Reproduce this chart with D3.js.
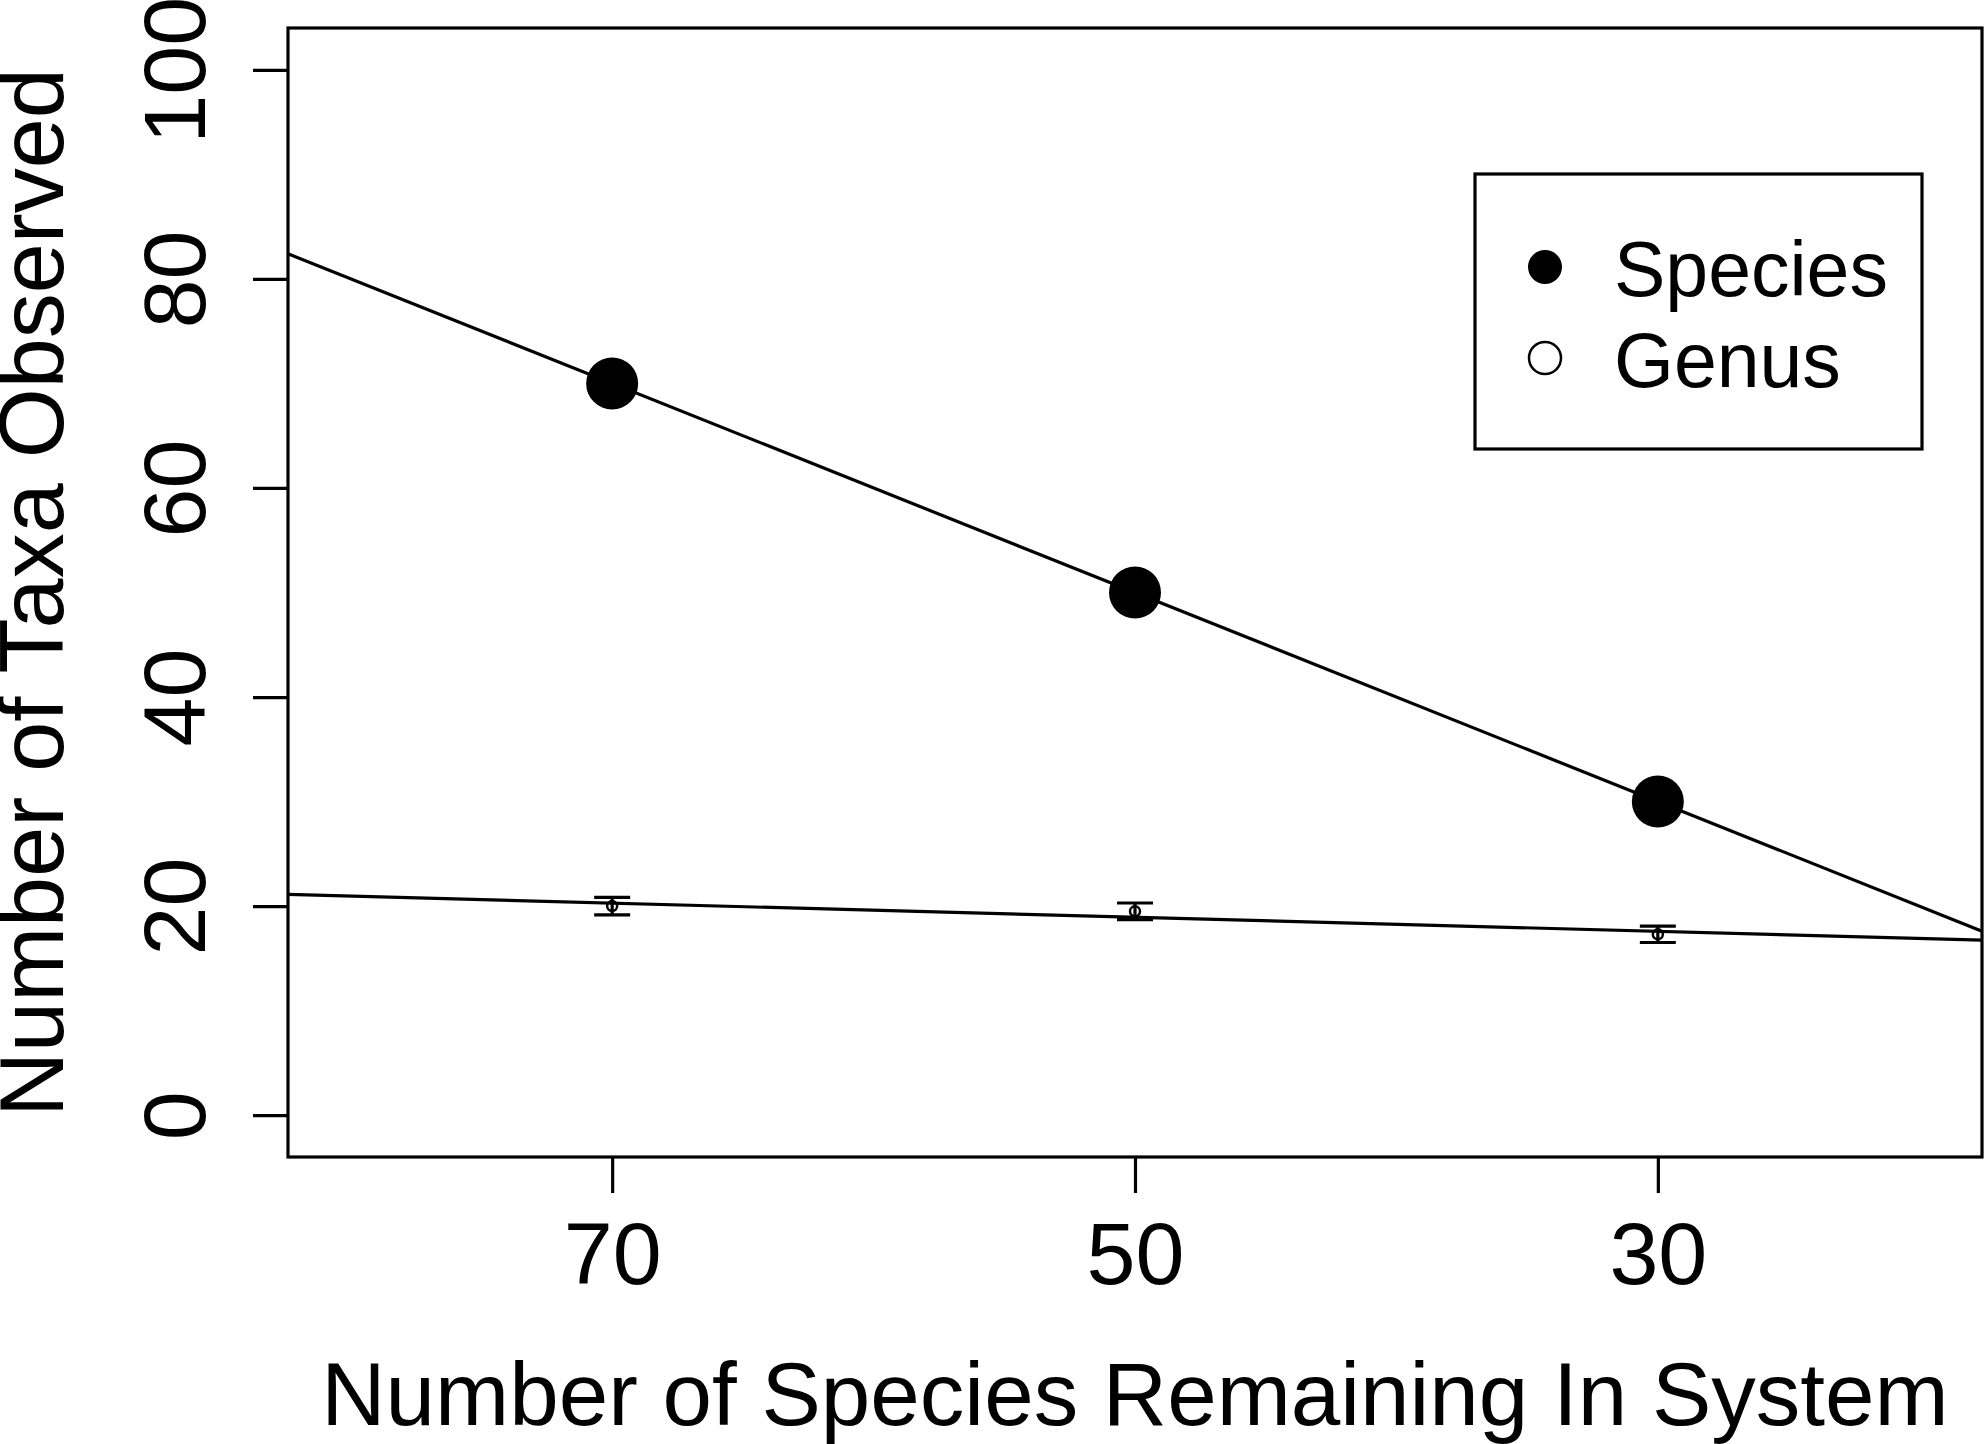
<!DOCTYPE html>
<html>
<head>
<meta charset="utf-8">
<script src="https://cdn.jsdelivr.net/npm/d3@7"></script>
<style>
  body { margin: 0; background: #fff; }
  text { font-family: "Liberation Sans", Arial, sans-serif; fill: #000; }
</style>
</head>
<body>
<svg id="chart" width="1985" height="1444"></svg>
<script>
// data
const remaining = [70, 50, 30];           // species remaining in system
const speciesObserved = [70, 50, 30];
const genusObserved = [20.0, 19.5, 17.3];
const genusSE = [0.83, 0.8, 0.78];
const xTicks = [70, 50, 30];
const yTicks = [0, 20, 40, 60, 80, 100];
const legendLabels = ["Species", "Genus"];

// R-style limits with 4% padding
const xLim = [80, 20];
const yLim = [0, 100];
function pad(lim) {
  let d = (lim[1] - lim[0]) * 0.04;
  return [lim[0] - d, lim[1] + d];
}

const plotLeft = 288, plotRight = 1982, plotTop = 28, plotBottom = 1157;
const lw = 3.2;

let svg = d3.select("#chart");
let x = d3.scaleLinear().domain(pad(xLim)).range([plotLeft, plotRight]);
let y = d3.scaleLinear().domain(pad(yLim)).range([plotBottom, plotTop]);

// least squares fit, like abline(lm(y ~ x))
function fit(xs, ys) {
  let mx = d3.mean(xs), my = d3.mean(ys);
  let sxy = d3.sum(xs, (v, i) => (v - mx) * (ys[i] - my));
  let sxx = d3.sum(xs, v => (v - mx) * (v - mx));
  let b = sxy / sxx;
  return { a: my - b * mx, b: b };
}

svg.append("clipPath").attr("id", "plotclip")
  .append("rect")
  .attr("x", plotLeft).attr("y", plotTop)
  .attr("width", plotRight - plotLeft).attr("height", plotBottom - plotTop);

// axes
let yAxis = svg.append("g")
  .attr("transform", "translate(" + plotLeft + ",0)")
  .call(d3.axisLeft(y).tickValues(yTicks).tickSize(35).tickFormat(d3.format("d")));
yAxis.select(".domain").remove();
yAxis.selectAll(".tick line").attr("stroke", "#000").attr("stroke-width", lw);
yAxis.selectAll(".tick text")
  .attr("transform", "rotate(-90)")
  .attr("x", 0).attr("y", -83).attr("dy", 0)
  .attr("text-anchor", "middle")
  .style("font-size", "88px");

let xAxis = svg.append("g")
  .attr("transform", "translate(0," + plotBottom + ")")
  .call(d3.axisBottom(x).tickValues(xTicks).tickSize(36).tickFormat(d3.format("d")));
xAxis.select(".domain").remove();
xAxis.selectAll(".tick line").attr("stroke", "#000").attr("stroke-width", lw);
xAxis.selectAll(".tick text")
  .attr("y", 127).attr("dy", 0)
  .style("font-size", "88px");

// fitted lines
let plot = svg.append("g").attr("clip-path", "url(#plotclip)");
let fits = [fit(remaining, speciesObserved), fit(remaining, genusObserved)];
let xs = x.domain();
plot.selectAll("line.fit")
  .data(fits)
  .enter().append("line")
  .attr("class", "fit")
  .attr("x1", x(xs[0])).attr("y1", d => y(d.a + d.b * xs[0]))
  .attr("x2", x(xs[1])).attr("y2", d => y(d.a + d.b * xs[1]))
  .attr("stroke", "#000").attr("stroke-width", lw);

// genus error bars
let genus = remaining.map((r, i) => ({ r: r, v: genusObserved[i], se: genusSE[i] }));
let bars = plot.selectAll("g.err").data(genus).enter().append("g").attr("class", "err");
bars.append("line")
  .attr("x1", d => x(d.r)).attr("x2", d => x(d.r))
  .attr("y1", d => y(d.v + d.se)).attr("y2", d => y(d.v - d.se))
  .attr("stroke", "#000").attr("stroke-width", lw);
bars.append("line")
  .attr("x1", d => x(d.r) - 18).attr("x2", d => x(d.r) + 18)
  .attr("y1", d => y(d.v + d.se)).attr("y2", d => y(d.v + d.se))
  .attr("stroke", "#000").attr("stroke-width", lw);
bars.append("line")
  .attr("x1", d => x(d.r) - 18).attr("x2", d => x(d.r) + 18)
  .attr("y1", d => y(d.v - d.se)).attr("y2", d => y(d.v - d.se))
  .attr("stroke", "#000").attr("stroke-width", lw);

// points
plot.selectAll("circle.genus")
  .data(genus)
  .enter().append("circle")
  .attr("class", "genus")
  .attr("cx", d => x(d.r)).attr("cy", d => y(d.v))
  .attr("r", 5)
  .attr("fill", "none").attr("stroke", "#000").attr("stroke-width", 2.5);

plot.selectAll("circle.species")
  .data(remaining)
  .enter().append("circle")
  .attr("class", "species")
  .attr("cx", d => x(d)).attr("cy", (d, i) => y(speciesObserved[i]))
  .attr("r", 26)
  .attr("fill", "#000");

// plot box
svg.append("rect")
  .attr("x", plotLeft).attr("y", plotTop)
  .attr("width", plotRight - plotLeft).attr("height", plotBottom - plotTop)
  .attr("fill", "none").attr("stroke", "#000").attr("stroke-width", lw);

// axis titles
svg.append("text")
  .attr("x", (plotLeft + plotRight) / 2).attr("y", 1425)
  .attr("text-anchor", "middle")
  .style("font-size", "89px")
  .text("Number of Species Remaining In System");

svg.append("text")
  .attr("transform", "translate(63," + (plotTop + plotBottom) / 2 + ") rotate(-90)")
  .attr("text-anchor", "middle")
  .style("font-size", "90px")
  .text("Number of Taxa Observed");

// legend
let legend = svg.append("g");
legend.append("rect")
  .attr("x", 1475).attr("y", 174)
  .attr("width", 447).attr("height", 275)
  .attr("fill", "#fff").attr("stroke", "#000").attr("stroke-width", lw);

let items = legend.selectAll("g.item")
  .data(legendLabels)
  .enter().append("g")
  .attr("class", "item")
  .attr("transform", (d, i) => "translate(1545," + (267 + i * 91) + ")");
items.append("circle")
  .attr("r", (d, i) => i === 0 ? 17 : 16)
  .attr("fill", (d, i) => i === 0 ? "#000" : "none")
  .attr("stroke", "#000")
  .attr("stroke-width", (d, i) => i === 0 ? 0 : 2.5);
items.append("text")
  .attr("x", 69).attr("y", 29)
  .style("font-size", "77px")
  .text(d => d);
</script>
</body>
</html>
